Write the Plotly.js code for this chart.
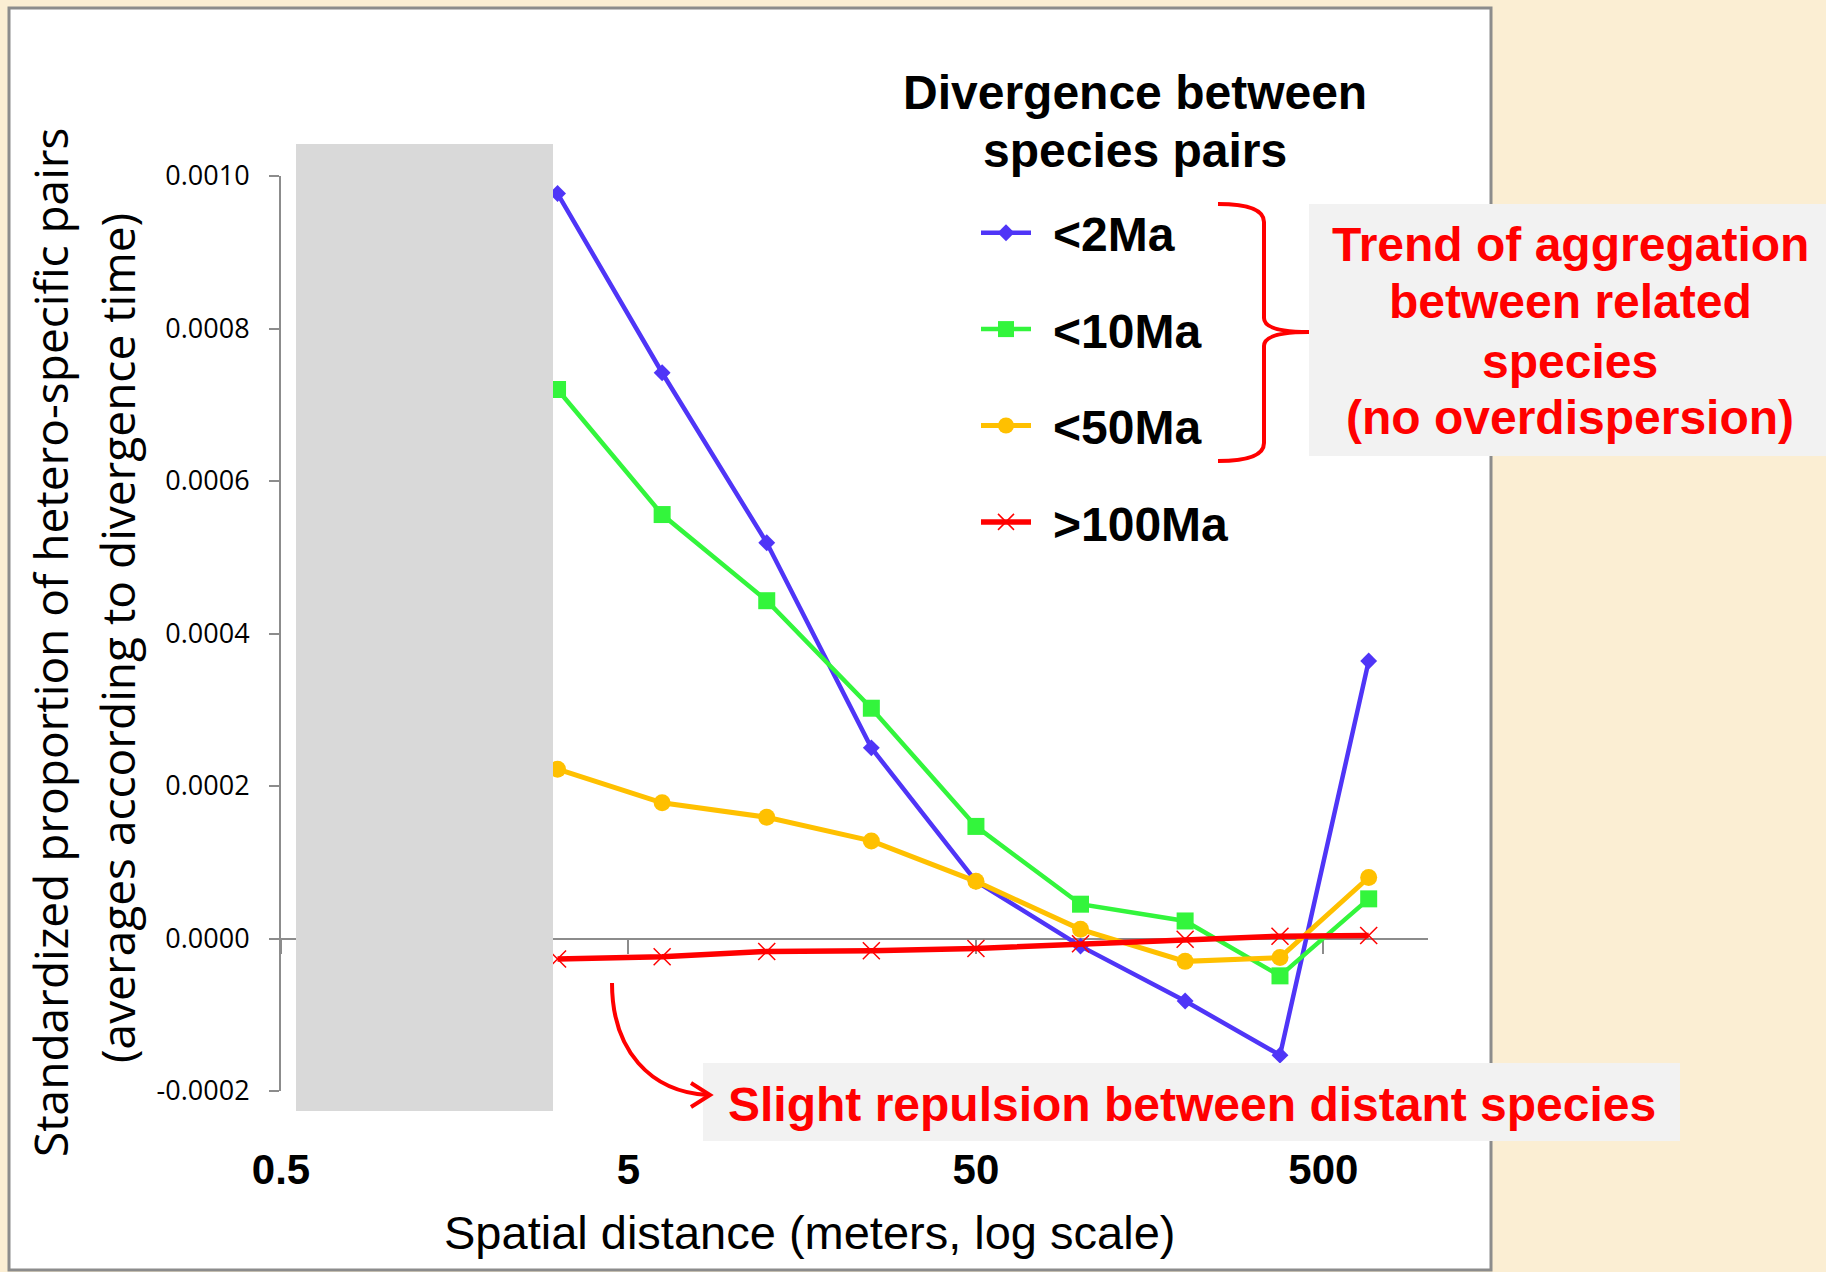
<!DOCTYPE html>
<html>
<head>
<meta charset="utf-8">
<script src="https://cdn.plot.ly/plotly-3.0.1.min.js"></script>
<style>
html,body{margin:0;padding:0;background:#fbeed3;}
#chart{width:1826px;height:1272px;}
#chart .legend .scrollbox{clip-path:none !important;}
#chart .legend .legendtext{transform:translate(17px,0);}
</style>
</head>
<body>
<div id="chart"></div>
<script>
// ---- data ----
const distance = [3.125, 6.25, 12.5, 25, 50, 100, 200, 375, 675];
const lt2Ma   = [0.000977, 0.000742, 0.000519, 0.000250, 0.000075, -0.000010, -0.000082, -0.000153, 0.000364];
const lt10Ma  = [0.000720, 0.000556, 0.000443, 0.000302, 0.000147, 0.000045, 0.000023, -0.000049, 0.000052];
const lt50Ma  = [0.000222, 0.000178, 0.000159, 0.000128, 0.000075, 0.000012, -0.000030, -0.000025, 0.000080];
const gt100Ma = [-0.000027, -0.000024, -0.000017, -0.000016, -0.000013, -0.000007, -0.000001, 0.000003, 0.000004];
const seriesNames = ['<2Ma', '<10Ma', '<50Ma', '>100Ma'];
const xTickVals = [0.5, 5, 50, 500];
const xTickText = ['0.5', '5', '50', '500'];
const yTickVals = [-0.0002, 0, 0.0002, 0.0004, 0.0006, 0.0008, 0.0010];
const yTickText = ['-0.0002', '0.0000', '0.0002', '0.0004', '0.0006', '0.0008', '0.0010'];

// ---- geometry helpers ----
const W = 1826, H = 1272, L = 281, R = 398, T = 176, B = 181;
const PW = W - L - R, PH = H - T - B;
const px = x => (x - L) / PW;
const py = y => (H - B - y) / PH;
const pt = (x, y) => px(x).toFixed(5) + ',' + py(y).toFixed(5);

const BOLD = 'Liberation Sans, Arial, sans-serif';
const C_BLUE = '#4f35f7', C_GREEN = '#33f53c', C_ORANGE = '#ffc000', C_RED = '#ff0000';

const traces = [
  {x: distance, y: lt2Ma, name: seriesNames[0], mode: 'lines+markers', legendgroup: 'a',
   line: {color: C_BLUE, width: 4.5}, marker: {symbol: 'diamond', size: 13, color: C_BLUE}},
  {x: distance, y: lt10Ma, name: seriesNames[1], mode: 'lines+markers', legendgroup: 'b',
   line: {color: C_GREEN, width: 4.5}, marker: {symbol: 'square', size: 17, color: C_GREEN}},
  {x: distance, y: lt50Ma, name: seriesNames[2], mode: 'lines+markers', legendgroup: 'c',
   line: {color: C_ORANGE, width: 5}, marker: {symbol: 'circle', size: 17, color: C_ORANGE}},
  {x: distance, y: gt100Ma, name: seriesNames[3], mode: 'lines+markers', legendgroup: 'd', xaxis: 'x2',
   line: {color: C_RED, width: 5.5}, marker: {symbol: 'x-thin-open', size: 17, color: C_RED, line: {color: C_RED, width: 1.5}}}
];

const xr = [Math.log10(0.5), 3];

const redText = {family: BOLD, size: 48, color: C_RED, weight: 'bold'};
function ann(text, x, y, font, extra) {
  return Object.assign({text: text, xref: 'paper', yref: 'paper', x: px(x), y: py(y),
    xanchor: 'center', yanchor: 'middle', showarrow: false, font: font}, extra || {});
}

const layout = {
  width: W, height: H, autosize: false,
  margin: {l: L, r: R, t: T, b: B, pad: 0},
  paper_bgcolor: '#fbeed3', plot_bgcolor: 'rgba(0,0,0,0)',
  showlegend: true,
  legend: {x: px(976), y: py(195), xanchor: 'left', yanchor: 'top',
    font: {family: BOLD, size: 48, color: '#000', weight: 'bold'},
    bgcolor: 'rgba(0,0,0,0)', tracegroupgap: 31, traceorder: 'grouped', itemwidth: 50},
  xaxis: {type: 'log', range: xr, showline: false, ticks: '', showgrid: false, zeroline: false,
    tickmode: 'array', tickvals: xTickVals, ticktext: xTickText,
    tickfont: {family: BOLD, size: 42, color: '#000', weight: 'bold'}, ticklabelstandoff: 50},
  xaxis2: {type: 'log', range: xr, overlaying: 'x', anchor: 'free', position: 1 / 6, side: 'bottom',
    showline: true, linecolor: '#8c8c8c', linewidth: 2, ticks: 'outside', ticklen: 14, tickwidth: 2,
    tickcolor: '#8c8c8c', tickmode: 'array', tickvals: xTickVals, showticklabels: false,
    showgrid: false, zeroline: false, layer: 'below traces'},
  yaxis: {range: [-0.0002, 0.0010], showline: true, linecolor: '#8c8c8c', linewidth: 2,
    ticks: 'outside', ticklen: 10, tickwidth: 2, tickcolor: '#8c8c8c',
    tickmode: 'array', tickvals: yTickVals, ticktext: yTickText,
    tickfont: {family: 'Open Sans, sans-serif', size: 27, color: '#000'},
    showgrid: false, zeroline: false, ticklabelstandoff: 14},
  shapes: [
    {type: 'rect', xref: 'paper', yref: 'paper', x0: px(9), x1: px(1491), y0: py(1270), y1: py(8),
     fillcolor: '#ffffff', line: {color: '#8c8c8c', width: 3}, layer: 'below'},
    {type: 'rect', xref: 'paper', yref: 'paper', x0: px(296), x1: px(553), y0: py(1111), y1: py(144),
     fillcolor: '#d9d9d9', line: {width: 0}, layer: 'above'},
    {type: 'rect', xref: 'paper', yref: 'paper', x0: px(1309), x1: px(1826), y0: py(456), y1: py(204),
     fillcolor: '#f2f2f2', line: {width: 0}, layer: 'above'},
    {type: 'rect', xref: 'paper', yref: 'paper', x0: px(703), x1: px(1680), y0: py(1141), y1: py(1063),
     fillcolor: '#f2f2f2', line: {width: 0}, layer: 'above'},
    {type: 'path', xref: 'paper', yref: 'paper', layer: 'above', line: {color: C_RED, width: 4},
     path: 'M' + pt(1218, 204) + ' Q' + pt(1264, 204) + ' ' + pt(1264, 222) +
           ' L' + pt(1264, 318) + ' Q' + pt(1264, 332) + ' ' + pt(1309, 332) +
           ' Q' + pt(1264, 332) + ' ' + pt(1264, 346) +
           ' L' + pt(1264, 443) + ' Q' + pt(1264, 461) + ' ' + pt(1218, 461)},
    {type: 'path', xref: 'paper', yref: 'paper', layer: 'above', line: {color: C_RED, width: 4},
     path: 'M' + pt(612, 983) + ' C' + pt(612, 1050) + ' ' + pt(650, 1092) + ' ' + pt(708, 1095)},
    {type: 'path', xref: 'paper', yref: 'paper', layer: 'above', line: {color: C_RED, width: 4},
     path: 'M' + pt(691, 1083) + ' L' + pt(710, 1095) + ' L' + pt(691, 1107)}
  ],
  annotations: [
    ann('Divergence between', 1135, 93, {family: BOLD, size: 48, color: '#000', weight: 'bold'}),
    ann('species pairs', 1135, 151, {family: BOLD, size: 48, color: '#000', weight: 'bold'}),
    ann('Trend of aggregation', 1570, 244, redText),
    ann('between related', 1570, 302, redText),
    ann('species', 1570, 361, redText),
    ann('(no overdispersion)', 1570, 417, redText),
    ann('Slight repulsion between distant species', 1192, 1104, redText),
    ann('Spatial distance (meters, log scale)', 809, 1232, {family: 'Liberation Sans, Arial, sans-serif', size: 47, color: '#000'}),
    ann('Standardized proportion of hetero-specific pairs', 50, 642, {family: 'Open Sans, sans-serif', size: 46, color: '#000'}, {textangle: -90}),
    ann('(averages according to divergence time)', 117, 638, {family: 'Open Sans, sans-serif', size: 46, color: '#000'}, {textangle: -90})
  ]
};

Plotly.newPlot('chart', traces, layout, {displayModeBar: false, responsive: false});
</script>
</body>
</html>
